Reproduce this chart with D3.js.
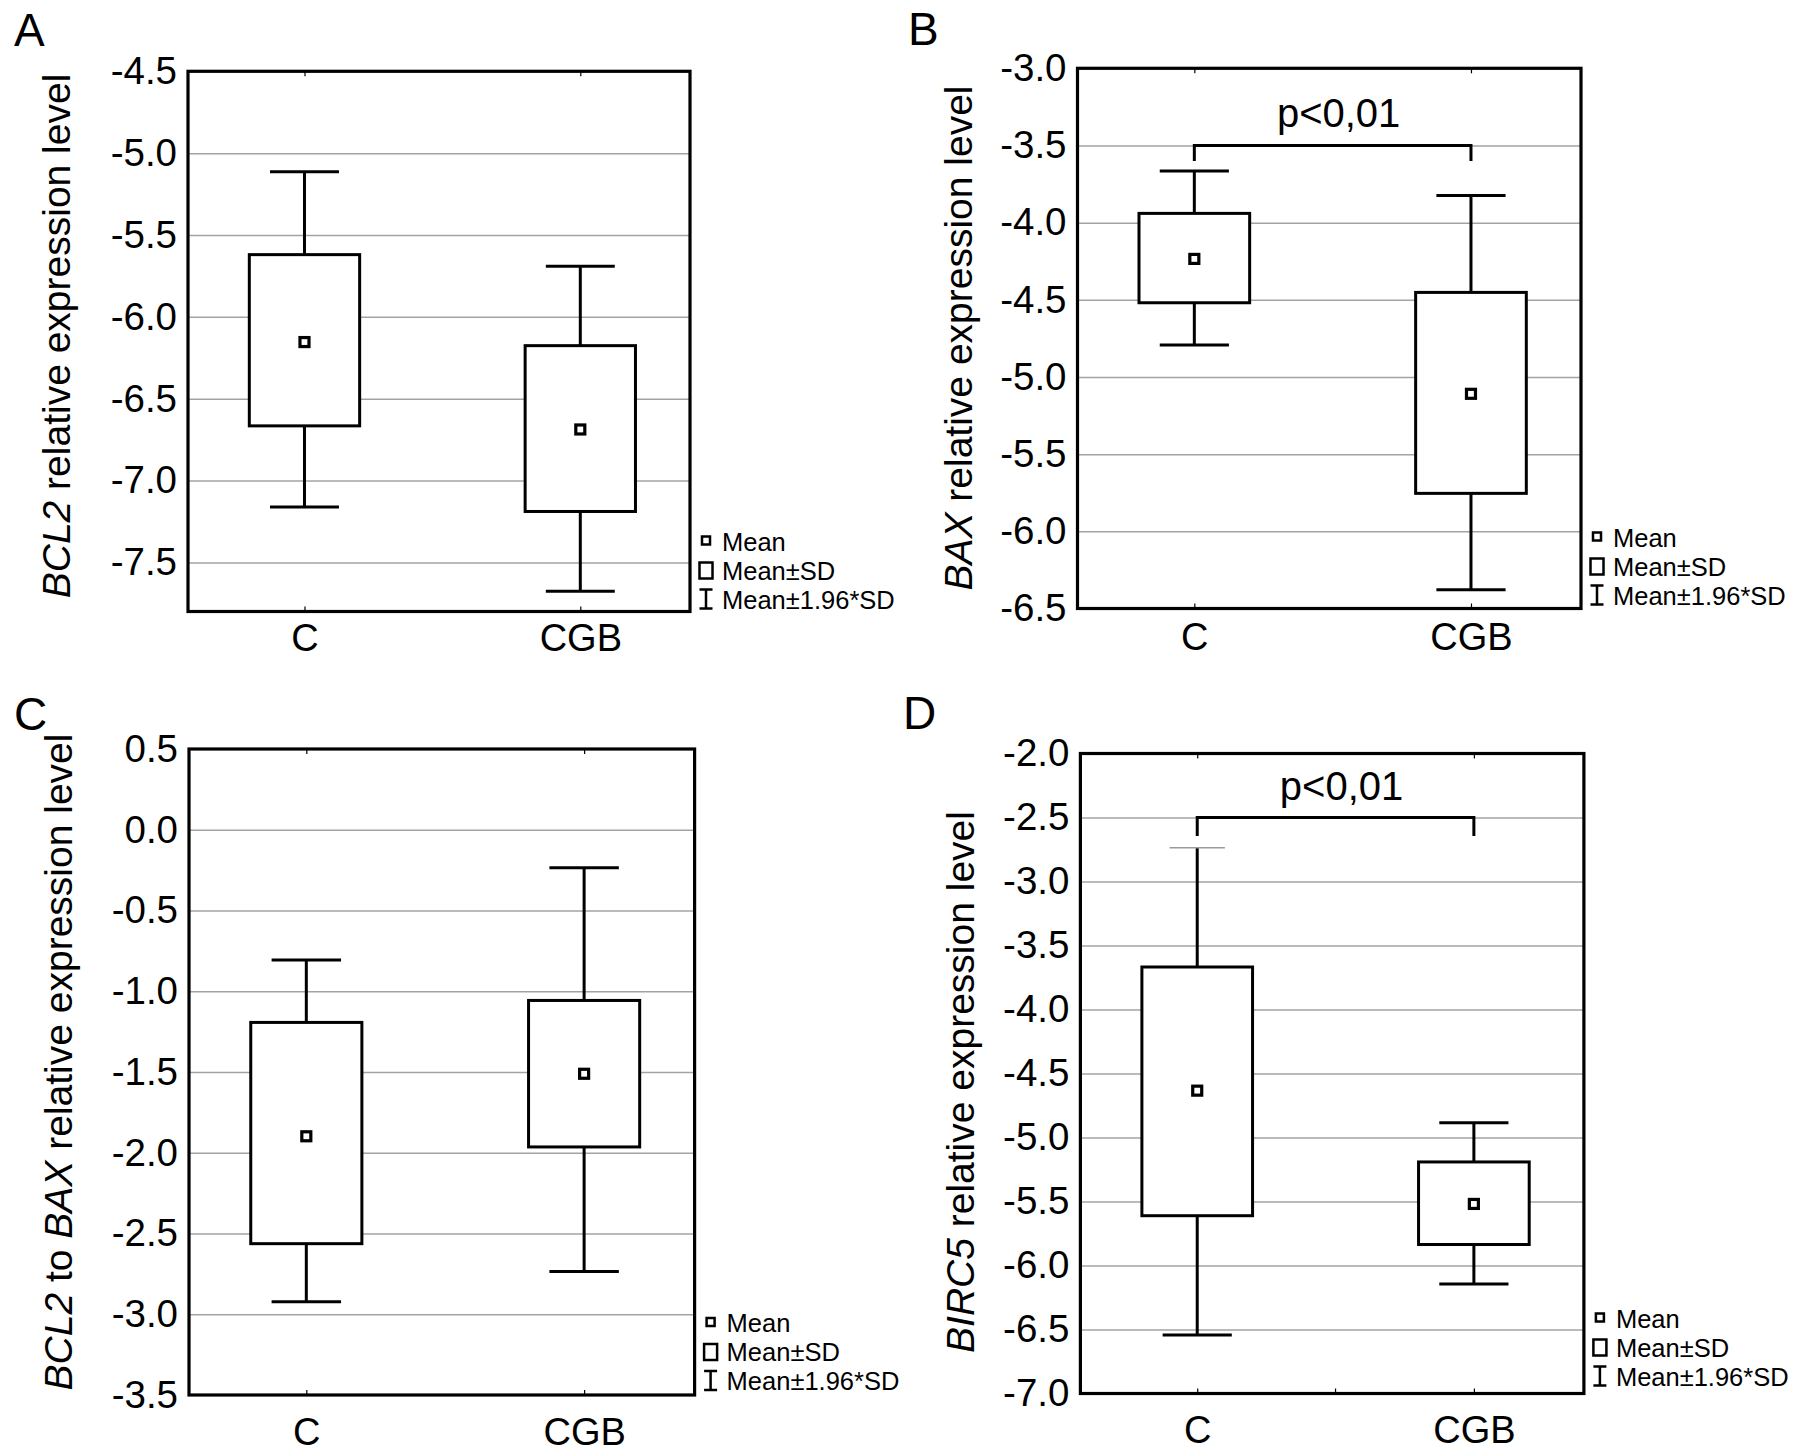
<!DOCTYPE html>
<html>
<head>
<meta charset="utf-8">
<script src="https://cdn.jsdelivr.net/npm/d3@7"></script>
<style>
  body { margin: 0; background: #fff; }
  text { font-family: "Liberation Sans", Arial, Helvetica, sans-serif; fill: #000; }
</style>
</head>
<body>
<script>
const groups = ["C", "CGB"];

// A - BCL2
const bcl2Mean = [-6.154, -6.688];
const bcl2SdUpper = [-5.620, -6.176];
const bcl2SdLower = [-6.666, -7.189];
const bcl2CiUpper = [-5.113, -5.691];
const bcl2CiLower = [-7.162, -7.677];
const bcl2Ticks = [-4.5, -5.0, -5.5, -6.0, -6.5, -7.0, -7.5];

// B - BAX
const baxMean = [-4.235, -5.109];
const baxSdUpper = [-3.940, -4.452];
const baxSdLower = [-4.519, -5.754];
const baxCiUpper = [-3.665, -3.824];
const baxCiLower = [-4.793, -6.379];
const baxTicks = [-3.0, -3.5, -4.0, -4.5, -5.0, -5.5, -6.0, -6.5];
const baxBracket = [-3.5, -3.6];

// C - BCL2 to BAX
const ratioMean = [-1.898, -1.511];
const ratioSdUpper = [-1.193, -1.057];
const ratioSdLower = [-2.563, -1.964];
const ratioCiUpper = [-0.806, -0.236];
const ratioCiLower = [-2.923, -2.736];
const ratioTicks = [0.5, 0.0, -0.5, -1.0, -1.5, -2.0, -2.5, -3.0, -3.5];

// D - BIRC5
const birc5Mean = [-4.634, -5.519];
const birc5SdUpper = [-3.668, -5.191];
const birc5SdLower = [-5.611, -5.836];
const birc5CiUpper = [-2.737, -4.885];
const birc5CiLower = [-6.542, -6.145];
const birc5Ticks = [-2.0, -2.5, -3.0, -3.5, -4.0, -4.5, -5.0, -5.5, -6.0, -6.5, -7.0];
const birc5Bracket = [-2.5, -2.645];

const sigLabel = "p<0,01";
const legendLabels = ["Mean", "Mean\u00b1SD", "Mean\u00b11.96*SD"];

const panels = [
    { letter: "A", lx: 14, ly: 46, left: 188, right: 690, top: 71.3, bottom: 611.5,
      domain: [-7.8, -4.5], ticks: bcl2Ticks, xPad: 13, legDy: 0,
      mean: bcl2Mean, sdU: bcl2SdUpper, sdL: bcl2SdLower, ciU: bcl2CiUpper, ciL: bcl2CiLower,
      label: [["BCL2", true], [" relative expression level", false]], labelX: 70, labelY: 336 },
    { letter: "B", lx: 908, ly: 45, left: 1077.5, right: 1581, top: 68.3, bottom: 608.5,
      domain: [-6.5, -3.0], ticks: baxTicks, xPad: 15, legDy: -1,
      mean: baxMean, sdU: baxSdUpper, sdL: baxSdLower, ciU: baxCiUpper, ciL: baxCiLower,
      bracket: baxBracket,
      label: [["BAX", true], [" relative expression level", false]], labelX: 972, labelY: 338 },
    { letter: "C", lx: 14, ly: 730, left: 189, right: 694.6, top: 749, bottom: 1395,
      domain: [-3.5, 0.5], ticks: ratioTicks, xPad: 23, legDy: -2,
      mean: ratioMean, sdU: ratioSdUpper, sdL: ratioSdLower, ciU: ratioCiUpper, ciL: ratioCiLower,
      label: [["BCL2", true], [" to ", false], ["BAX", true], [" relative expression level", false]],
      labelX: 72, labelY: 1062 },
    { letter: "D", lx: 903, ly: 729, left: 1080.4, right: 1583.9, top: 753.5, bottom: 1393.5,
      domain: [-7.0, -2.0], ticks: birc5Ticks, xPad: 23, legDy: -5, midTick: true, thinTopCap: "C",
      mean: birc5Mean, sdU: birc5SdUpper, sdL: birc5SdLower, ciU: birc5CiUpper, ciL: birc5CiLower,
      bracket: birc5Bracket,
      label: [["BIRC5", true], [" relative expression level", false]], labelX: 974, labelY: 1082 }
];

const svg = d3.select("body").append("svg")
    .attr("width", 1795)
    .attr("height", 1456);

panels.forEach(drawPanel);

function drawPanel(p) {
    const g = svg.append("g");
    const w = p.right - p.left;

    const x = d3.scalePoint()
        .domain(groups)
        .range([p.left, p.right])
        .padding(0.41)
        .align(0.515);

    const y = d3.scaleLinear()
        .domain(p.domain)
        .range([p.bottom, p.top]);

    const boxW = x.step() * 0.4;
    const capW = x.step() * 0.25;

    // horizontal grid
    const inner = p.ticks.filter(t => y(t) > p.top + 2 && y(t) < p.bottom - 2);
    g.append("g")
        .attr("transform", `translate(${p.left},0)`)
        .call(d3.axisLeft(y).tickValues(inner).tickSize(-w).tickFormat(""))
        .call(a => a.select(".domain").remove())
        .selectAll("line")
        .attr("stroke", "#a3a3a3")
        .attr("stroke-width", 1.5);

    // y tick labels
    g.append("g")
        .attr("transform", `translate(${p.left},0)`)
        .call(d3.axisLeft(y).tickValues(p.ticks).tickSize(0).tickPadding(11).tickFormat(d => d.toFixed(1)))
        .call(a => a.select(".domain").remove())
        .selectAll("text")
        .attr("font-size", 38.5)
        .attr("font-family", null)
        .attr("fill", "#000");

    // x axis (ticks point inward)
    const xa = g.append("g")
        .attr("transform", `translate(0,${p.bottom})`)
        .call(d3.axisBottom(x).tickSize(-5).tickPadding(p.xPad));
    xa.select(".domain").remove();
    xa.selectAll("line").attr("stroke", "#000").attr("stroke-width", 1.2);
    xa.selectAll("text").attr("font-size", 38).attr("font-family", null).attr("fill", "#000");

    g.append("g")
        .attr("transform", `translate(0,${p.top})`)
        .call(d3.axisTop(x).tickSize(-5).tickFormat(""))
        .call(a => a.select(".domain").remove())
        .selectAll("line").attr("stroke", "#000").attr("stroke-width", 1.2);

    if (p.midTick) {
        const mx = (x(groups[0]) + x(groups[1])) / 2;
        g.append("line")
            .attr("x1", mx).attr("x2", mx)
            .attr("y1", p.bottom).attr("y2", p.bottom - 5)
            .attr("stroke", "#000").attr("stroke-width", 1.2);
    }

    const rows = groups.map((k, i) => ({
        key: k, mean: p.mean[i], sdU: p.sdU[i], sdL: p.sdL[i], ciU: p.ciU[i], ciL: p.ciL[i]
    }));

    const items = g.selectAll(".grp")
        .data(rows)
        .enter()
        .append("g")
        .attr("class", "grp");

    // whiskers
    items.append("line")
        .attr("x1", d => x(d.key)).attr("x2", d => x(d.key))
        .attr("y1", d => y(d.ciU)).attr("y2", d => y(d.ciL))
        .attr("stroke", "#000").attr("stroke-width", 3);

    // caps
    items.append("line")
        .attr("x1", d => x(d.key) - (d.key === p.thinTopCap ? capW * 0.4 : capW / 2))
        .attr("x2", d => x(d.key) + (d.key === p.thinTopCap ? capW * 0.4 : capW / 2))
        .attr("y1", d => y(d.ciU)).attr("y2", d => y(d.ciU))
        .attr("stroke", d => d.key === p.thinTopCap ? "#9a9a9a" : "#000")
        .attr("stroke-width", d => d.key === p.thinTopCap ? 1.5 : 3);

    items.append("line")
        .attr("x1", d => x(d.key) - capW / 2).attr("x2", d => x(d.key) + capW / 2)
        .attr("y1", d => y(d.ciL)).attr("y2", d => y(d.ciL))
        .attr("stroke", "#000").attr("stroke-width", 3);

    // SD boxes
    items.append("rect")
        .attr("x", d => x(d.key) - boxW / 2)
        .attr("y", d => y(d.sdU))
        .attr("width", boxW)
        .attr("height", d => y(d.sdL) - y(d.sdU))
        .attr("fill", "#fff")
        .attr("stroke", "#000")
        .attr("stroke-width", 3);

    // mean markers
    items.append("rect")
        .attr("x", d => x(d.key) - 4.5)
        .attr("y", d => y(d.mean) - 4.5)
        .attr("width", 9)
        .attr("height", 9)
        .attr("fill", "#fff")
        .attr("stroke", "#000")
        .attr("stroke-width", 3.2);

    // frame
    g.append("rect")
        .attr("x", p.left).attr("y", p.top)
        .attr("width", w).attr("height", p.bottom - p.top)
        .attr("fill", "none")
        .attr("stroke", "#000")
        .attr("stroke-width", 3.2);

    // significance bracket
    if (p.bracket) {
        const x0 = x(groups[0]), x1 = x(groups[1]);
        g.append("path")
            .attr("d", `M${x0},${y(p.bracket[1])}V${y(p.bracket[0])}H${x1}V${y(p.bracket[1])}`)
            .attr("fill", "none")
            .attr("stroke", "#000")
            .attr("stroke-width", 3);
        g.append("text")
            .attr("x", (x0 + x1) / 2 + 6)
            .attr("y", y(p.bracket[0]) - 18)
            .attr("text-anchor", "middle")
            .attr("font-size", 40)
            .text(sigLabel);
    }

    // legend
    const lx = p.right + 16;
    const base = [p.bottom - 61 + p.legDy, p.bottom - 32 + p.legDy, p.bottom - 3 + p.legDy];
    g.append("rect")
        .attr("x", lx - 4).attr("y", base[0] - 14)
        .attr("width", 8).attr("height", 8)
        .attr("fill", "#fff").attr("stroke", "#000").attr("stroke-width", 2.5);
    g.append("rect")
        .attr("x", lx - 6.5).attr("y", base[1] - 17)
        .attr("width", 13).attr("height", 16)
        .attr("fill", "#fff").attr("stroke", "#000").attr("stroke-width", 2.5);
    g.append("path")
        .attr("d", `M${lx - 6.5},${base[2] - 19}H${lx + 6.5}M${lx},${base[2] - 19}V${base[2]}M${lx - 6.5},${base[2]}H${lx + 6.5}`)
        .attr("fill", "none").attr("stroke", "#000").attr("stroke-width", 2.5);
    legendLabels.forEach((t, i) => {
        g.append("text")
            .attr("x", p.right + 32)
            .attr("y", base[i])
            .attr("font-size", 25.5)
            .text(t);
    });

    // y axis label
    const lab = g.append("text")
        .attr("transform", `translate(${p.labelX},${p.labelY}) rotate(-90)`)
        .attr("text-anchor", "middle")
        .attr("font-size", 39);
    p.label.forEach(([s, it]) => {
        lab.append("tspan")
            .attr("font-style", it ? "italic" : "normal")
            .text(s);
    });

    // panel letter
    g.append("text")
        .attr("x", p.lx)
        .attr("y", p.ly)
        .attr("font-size", 46)
        .text(p.letter);
}
</script>
</body>
</html>
